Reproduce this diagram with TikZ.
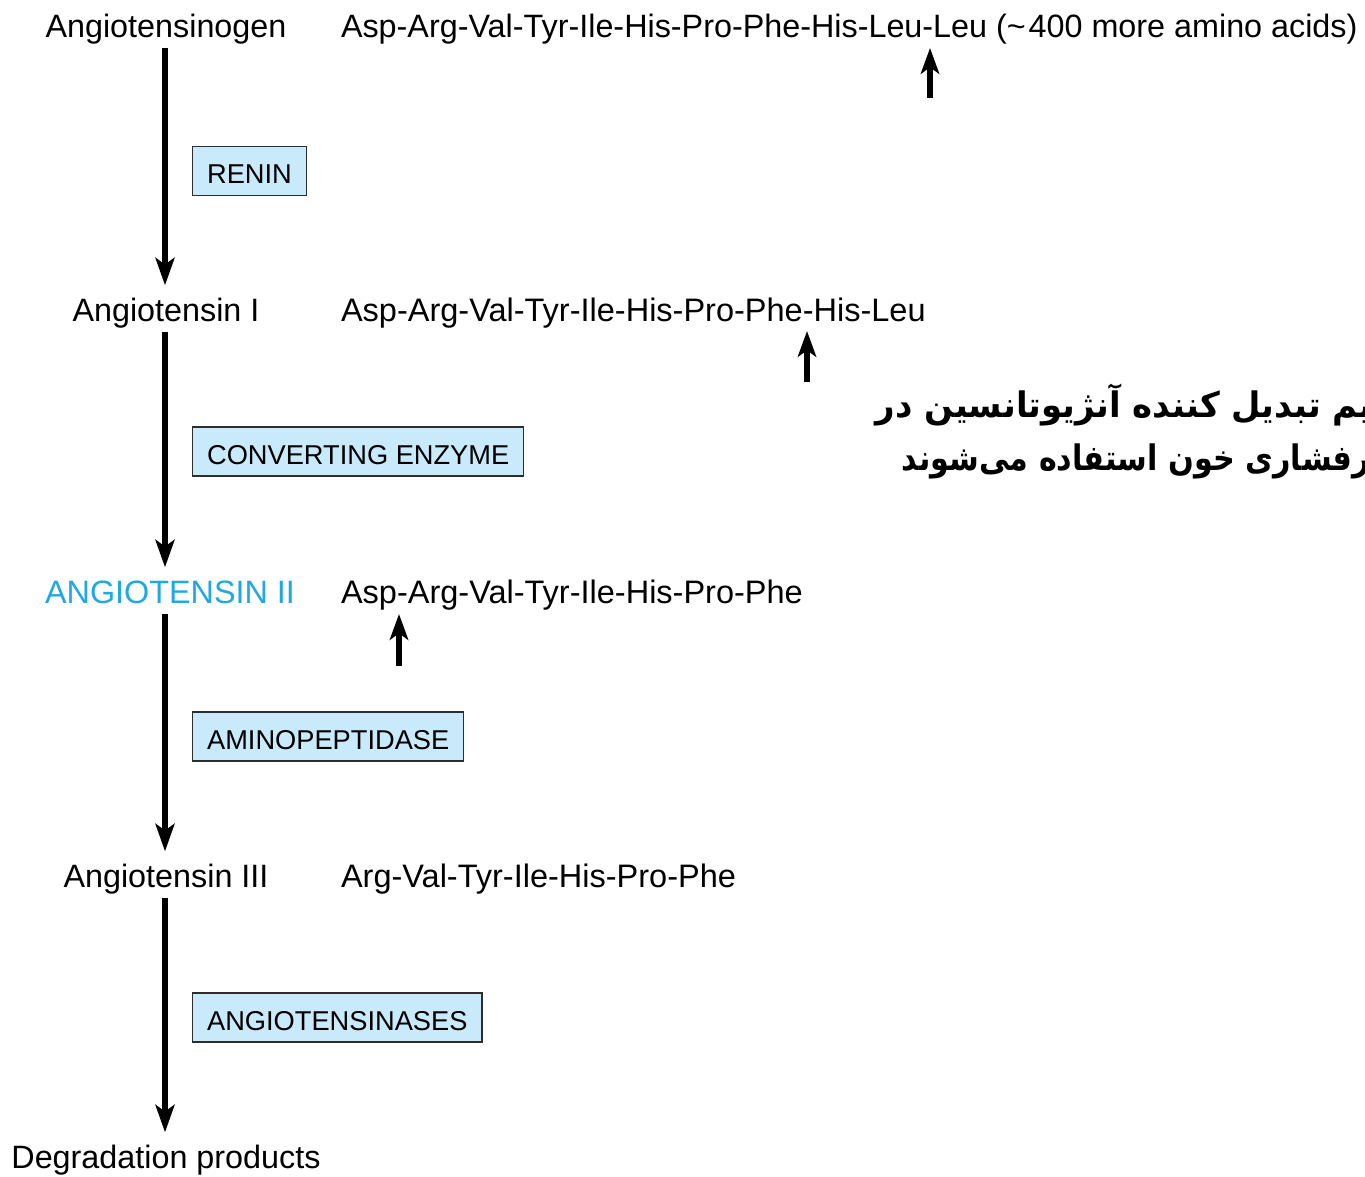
\documentclass[tikz,border=0pt]{standalone}
\usepackage{fontspec}
\setmainfont{Liberation Sans}
\newfontfamily\farsifont[Script=Arabic]{DejaVu Sans}
\TeXXeTstate=1
\usetikzlibrary{arrows.meta}
\definecolor{boxfill}{RGB}{200,234,251}
\definecolor{boxline}{RGB}{45,45,45}
\definecolor{angcyan}{RGB}{30,168,228}
\begin{document}
\begin{tikzpicture}[x=0.1mm,y=-0.1mm,
  lbl/.style={inner sep=0pt, outer sep=0pt, font=\fontsize{9.2}{11}\selectfont, anchor=base, text height=0.716em, text depth=0.21em},
  seq/.style={inner sep=0pt, outer sep=0pt, font=\fontsize{9.25}{11}\selectfont, anchor=base west},
  enz/.style={draw=boxline, line width=0.4pt, fill=boxfill, font=\fontsize{7.75}{9}\selectfont, anchor=west, inner xsep=4.1pt, inner ysep=0pt, minimum height=4.9mm, text height=0.716em, text depth=0pt},
  flow/.style={line width=1.5pt, -{Stealth[length=7.8pt,width=5.4pt,inset=1.9pt]}, shorten <=0.9pt, shorten >=3pt},
  cut/.style={line width=1.7pt, -{Stealth[length=7.3pt,width=5.2pt,inset=1.8pt]}},
  farsi/.style={inner sep=0pt, outer sep=0pt, font=\farsifont\bfseries\fontsize{10}{12}\selectfont, anchor=base east},
]
\useasboundingbox (0,0) rectangle (1365,1176);
\clip (0,0) rectangle (1365,1176);

\coordinate (spine) at (165,0);

% main chain
\node[lbl] (agt)  at (166,37)   {Angiotensinogen};
\node[lbl] (ang1) at (166,321)  {Angiotensin I};
\node[lbl, text=angcyan] (ang2) at (170,603) {ANGIOTENSIN II};
\node[lbl] (ang3) at (166,887)  {Angiotensin III};
\node[lbl] (deg)  at (166,1168) {Degradation products};

% sequences
\node[seq, font=\fontsize{9.2}{11}\selectfont] (s1) at (341,37)  {Asp-Arg-Val-Tyr-Ile-His-Pro-Phe-His-Leu-Leu (\textasciitilde\kern0.8pt 400 more amino acids)};
\node[seq] (s2) at (341,321) {Asp-Arg-Val-Tyr-Ile-His-Pro-Phe-His-Leu};
\node[seq] (s3) at (341,603) {Asp-Arg-Val-Tyr-Ile-His-Pro-Phe};
\node[seq] (s4) at (341,887) {Arg-Val-Tyr-Ile-His-Pro-Phe};

% enzymes
\node[enz] (renin) at (192,171)    {RENIN};
\node[enz] (ace)   at (192,451.5)  {CONVERTING ENZYME};
\node[enz] (amino) at (192,736.5)  {AMINOPEPTIDASE};
\node[enz] (ases)  at (192,1017.5) {ANGIOTENSINASES};

% main arrows
\draw[flow] (agt.south -| spine)  -- (ang1.north -| spine);
\draw[flow] (ang1.south -| spine) -- (ang2.north -| spine);
\draw[flow] (ang2.south -| spine) -- (ang3.north -| spine);
\draw[flow] (ang3.south -| spine) -- (deg.north -| spine);

% cleavage sites
\coordinate (c1b) at (930,98);  \coordinate (c1t) at (930,48);
\coordinate (c2b) at (807,382); \coordinate (c2t) at (807,331);
\coordinate (c3b) at (399,666); \coordinate (c3t) at (399,614);
\draw[cut] (c1b) -- (c1t);
\draw[cut] (c2b) -- (c2t);
\draw[cut] (c3b) -- (c3t);

% Persian note (cut by the right edge)
\node[farsi] (fa1) at (1372,417) {\scalebox{0.965}[1]{\beginR یم تبدیل کننده آنژیوتانسین در\endR}};
\node[farsi] (fa2) at (1370,470) {\scalebox{0.86}[1]{\beginR رفشاری خون استفاده می‌شوند\endR}};
\end{tikzpicture}
\end{document}
